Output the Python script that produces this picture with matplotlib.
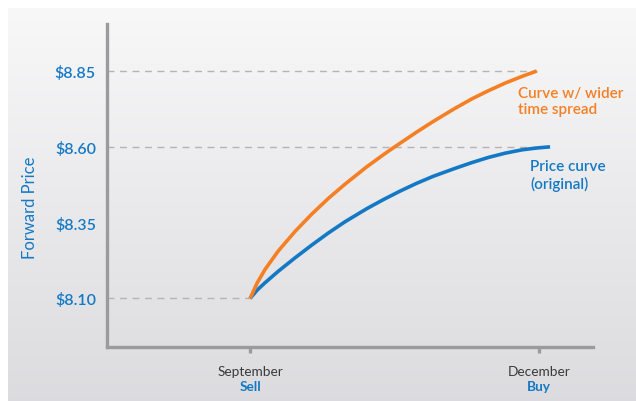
import matplotlib
matplotlib.use("Agg")
import matplotlib.pyplot as plt
import numpy as np

plt.rcParams['font.family'] = ['Lato', 'DejaVu Sans']

# ==========================
# 数据
# ==========================

months = ["September", "December"]
actions = ["Sell", "Buy"]
month_pos = [0, 3]

price_ticks = [8.10, 8.35, 8.60, 8.85]

orig_x = [0, 0.075, 0.156, 0.294, 0.467, 0.640, 0.813, 0.986, 1.211, 1.384, 1.557,
          1.731, 1.903, 2.128, 2.302, 2.474, 2.647, 2.821, 2.97, 3.114]
orig_y = [8.100, 8.128, 8.152, 8.190, 8.234, 8.276, 8.316, 8.353, 8.396, 8.426, 8.454,
          8.480, 8.503, 8.529, 8.548, 8.565, 8.579, 8.590, 8.596, 8.600]

wide_x = [0, 0.075, 0.156, 0.294, 0.467, 0.640, 0.813, 0.986, 1.211, 1.384, 1.488,
          1.731, 1.903, 2.128, 2.302, 2.474, 2.647, 2.821, 2.976]
wide_y = [8.100, 8.152, 8.196, 8.257, 8.321, 8.378, 8.430, 8.477, 8.534, 8.574, 8.597,
          8.649, 8.684, 8.727, 8.758, 8.785, 8.810, 8.832, 8.850]

guide_levels = [8.10, 8.60, 8.85]
guide_ends = [0, 3.0, 2.98]

BLUE = "#1479c4"
ORANGE = "#f47f24"
GREY = "#9b9b9d"

W, H = 636, 402
fig = plt.figure(figsize=(W / 100, H / 100), dpi=100)
fig.patch.set_facecolor("white")

# 背景渐变
bg = fig.add_axes([8 / W, 0, 1 - 8 / W, (H - 9) / H])
grad = np.linspace(0, 1, 256).reshape(-1, 1)
top = np.array([0.972, 0.972, 0.975])
bot = np.array([0.862, 0.862, 0.875])
img = top + (bot - top) * grad[:, :, None]
bg.imshow(img, aspect="auto", extent=[0, 1, 0, 1])
bg.axis("off")

ax = fig.add_axes([107 / W, (H - 348) / H, (593 - 107) / W, (348 - 25) / H])
ax.set_facecolor("none")
ax.set_xlim(-1.485, 3.56)
ax.set_ylim(7.94, 9.005)

for lvl, end in zip(guide_levels, guide_ends):
    ax.hlines(lvl, -1.485, end, colors="#b4b4b6", linestyles=(0, (5, 4)), lw=1.0, zorder=1)

ax.plot(orig_x, orig_y, color=BLUE, lw=2.6, solid_capstyle="butt",
        solid_joinstyle="round", zorder=3)
ax.plot(wide_x, wide_y, color=ORANGE, lw=2.6, solid_capstyle="butt",
        solid_joinstyle="round", zorder=3)

for s in ["top", "right"]:
    ax.spines[s].set_visible(False)
for s in ["left", "bottom"]:
    ax.spines[s].set_color(GREY)
    ax.spines[s].set_linewidth(2.4)
    ax.spines[s].set_capstyle("projecting")

ax.set_yticks(price_ticks)
ax.set_yticklabels([f"${v:.2f}" for v in price_ticks], color=BLUE, fontsize=11.5,
                   fontweight="semibold")
ax.tick_params(axis="y", length=0, pad=8)

ax.set_xticks(month_pos)
ax.set_xticklabels([])
ax.tick_params(axis="x", length=4, width=2.4, color=GREY)

for x, m, a in zip(month_pos, months, actions):
    ax.annotate(m, xy=(x, 0), xycoords=("data", "axes fraction"), xytext=(0, -17),
                textcoords="offset points", ha="center", va="center",
                fontsize=9.8, color="#3a3a3a")
    ax.annotate(a, xy=(x, 0), xycoords=("data", "axes fraction"), xytext=(0, -28),
                textcoords="offset points", ha="center", va="center",
                fontsize=9.8, color=BLUE, fontweight="bold")

fig.text(30 / W, 1 - 208 / H, "Forward Price", rotation=90, ha="center", va="center",
         fontsize=12, color=BLUE)

fig.text(518 / W, 1 - 102 / H, "Curve w/ wider\ntime spread", ha="left", va="center",
         fontsize=11, color=ORANGE, fontweight="semibold", linespacing=1.25)
fig.text(530 / W, 1 - 176 / H, "Price curve\n(original)", ha="left", va="center",
         fontsize=11, color=BLUE, fontweight="semibold", linespacing=1.25)

plt.savefig("out.png", dpi=100, facecolor=fig.get_facecolor())
plt.close()
